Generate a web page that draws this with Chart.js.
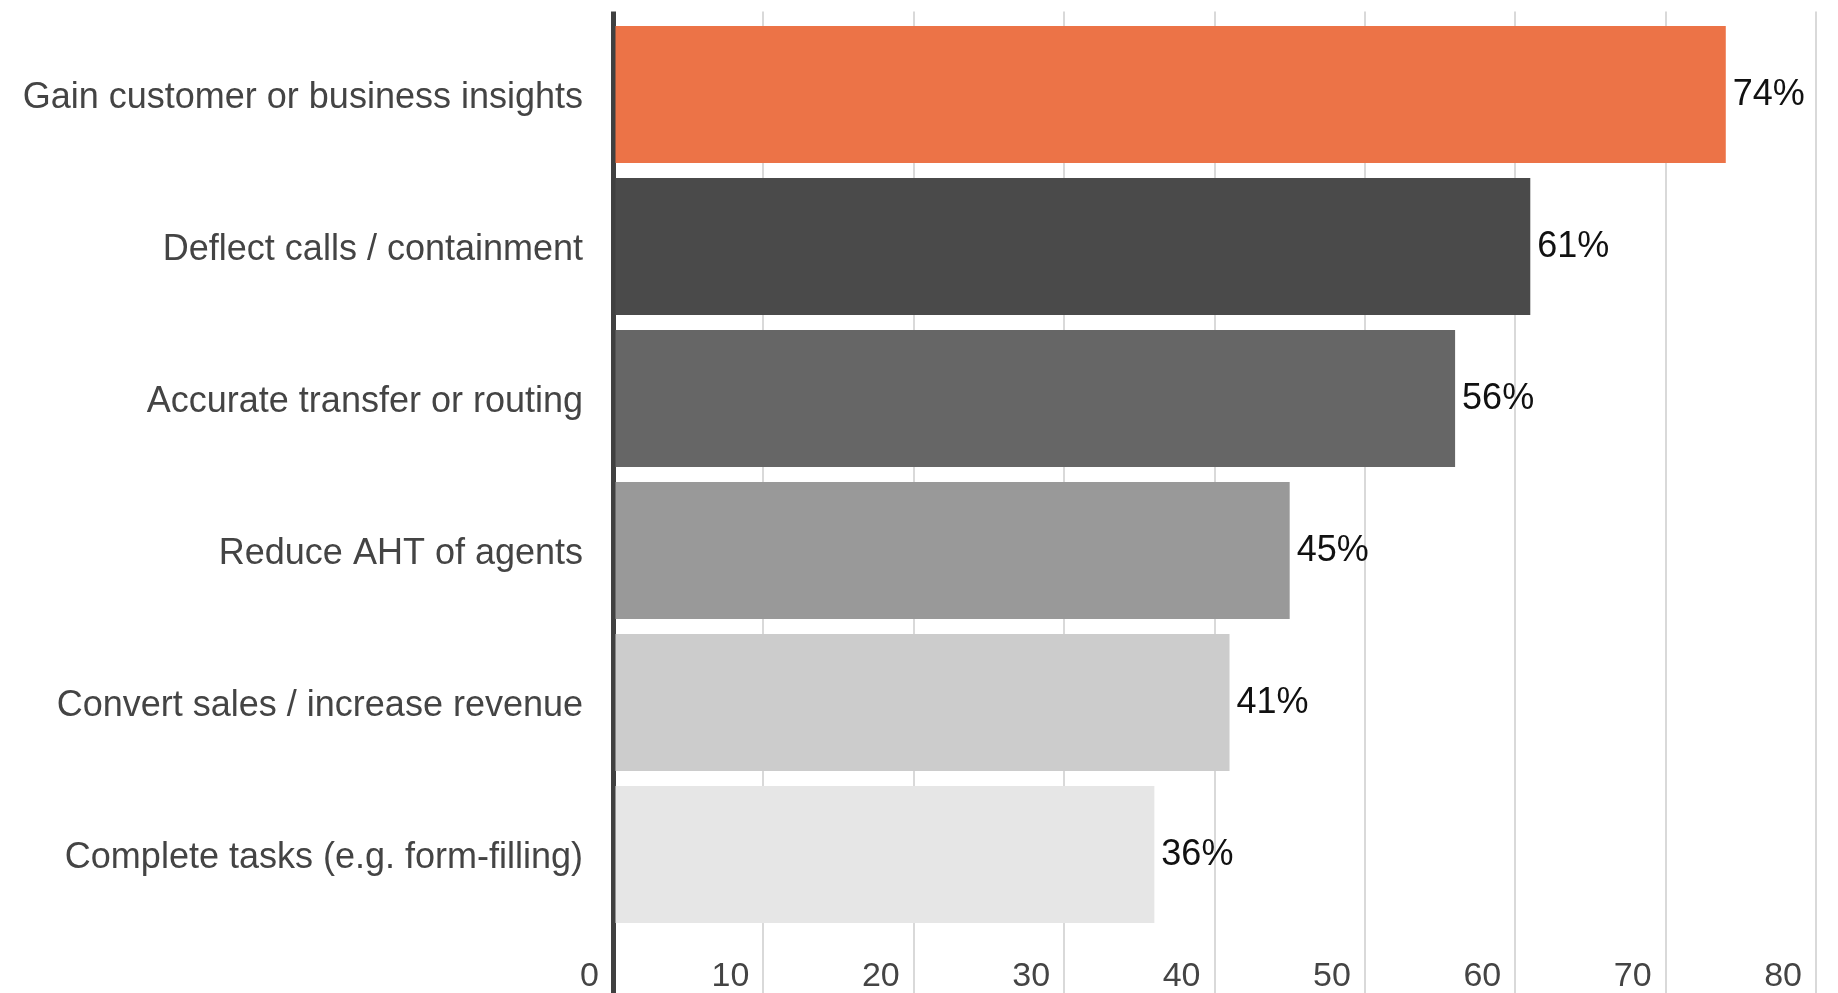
<!DOCTYPE html>
<html>
<head>
<meta charset="utf-8">
<script src="https://cdn.jsdelivr.net/npm/chart.js@4/dist/chart.umd.min.js"></script>
<style>
  html, body { margin: 0; padding: 0; background: #ffffff; }
  #wrap { width: 1838px; height: 993px; }
</style>
</head>
<body>
<div id="wrap"><canvas id="myChart"></canvas></div>
<script>
const categories = [
  'Gain customer or business insights',
  'Deflect calls / containment',
  'Accurate transfer or routing',
  'Reduce AHT of agents',
  'Convert sales / increase revenue',
  'Complete tasks (e.g. form-filling)'
];
const percentValues = [74, 61, 56, 45, 41, 36];
const barColors = ['#ec7347', '#4a4a4a', '#666666', '#999999', '#cccccc', '#e6e6e6'];
const axisMin = 0;
const axisMax = 80;
const axisStep = 10;

const gridColor = (ctx) => (ctx.tick && ctx.tick.value === 0 ? '#404040' : '#d9d9d9');
const gridWidth = (ctx) => (ctx.tick && ctx.tick.value === 0 ? 5 : 2);

// draws the "74%" style labels at the end of each bar
const valueLabels = {
  id: 'valueLabels',
  afterDatasetsDraw(chart) {
    const c = chart.ctx;
    const meta = chart.getDatasetMeta(0);
    c.save();
    c.font = '36px "Liberation Sans", Arial, sans-serif';
    c.fillStyle = '#111111';
    c.textAlign = 'left';
    c.textBaseline = 'middle';
    meta.data.forEach((bar, i) => {
      c.fillText(percentValues[i] + '%', bar.x + 7, bar.y + 1);
    });
    c.restore();
  }
};

const ctx = document.getElementById('myChart');
const mychart = new Chart(ctx, {
  type: 'bar',
  data: {
    labels: categories,
    datasets: [{
      data: percentValues,
      backgroundColor: barColors,
      borderWidth: 0,
      barPercentage: 0.9,
      categoryPercentage: 1.0
    }]
  },
  options: {
    indexAxis: 'y',
    responsive: true,
    maintainAspectRatio: false,
    animation: false,
    layout: { padding: { top: 11.5, right: 22, left: 0, bottom: 0 } },
    plugins: {
      legend: { display: false },
      tooltip: { enabled: false }
    },
    scales: {
      x: {
        position: 'bottom',
        min: axisMin,
        max: axisMax,
        ticks: {
          stepSize: axisStep,
          align: 'end',
          labelOffset: -14,
          padding: -37,
          color: '#444444',
          font: { family: '"Liberation Sans", Arial, sans-serif', size: 34 }
        },
        grid: { color: gridColor, lineWidth: gridWidth, tickLength: 62.5 },
        border: { display: false },
        afterFit(scale) { scale.height = 62.5; }
      },
      x2: {
        position: 'top',
        min: axisMin,
        max: axisMax,
        ticks: { stepSize: axisStep, display: false },
        grid: { color: gridColor, lineWidth: gridWidth, tickLength: 7, drawOnChartArea: false },
        border: { display: false },
        afterFit(scale) { scale.height = 7; }
      },
      y: {
        z: 1,
        ticks: {
          padding: 30,
          labelOffset: 3.5,
          color: '#444444',
          font: { family: '"Liberation Sans", Arial, sans-serif', size: 36 }
        },
        grid: { display: false, drawTicks: false },
        border: { display: true, color: '#404040', width: 5 },
        afterFit(scale) {
          scale.width = 613;
          scale.paddingTop = 0;
          scale.paddingBottom = 0;
        }
      }
    }
  },
  plugins: [valueLabels]
});
</script>
</body>
</html>
